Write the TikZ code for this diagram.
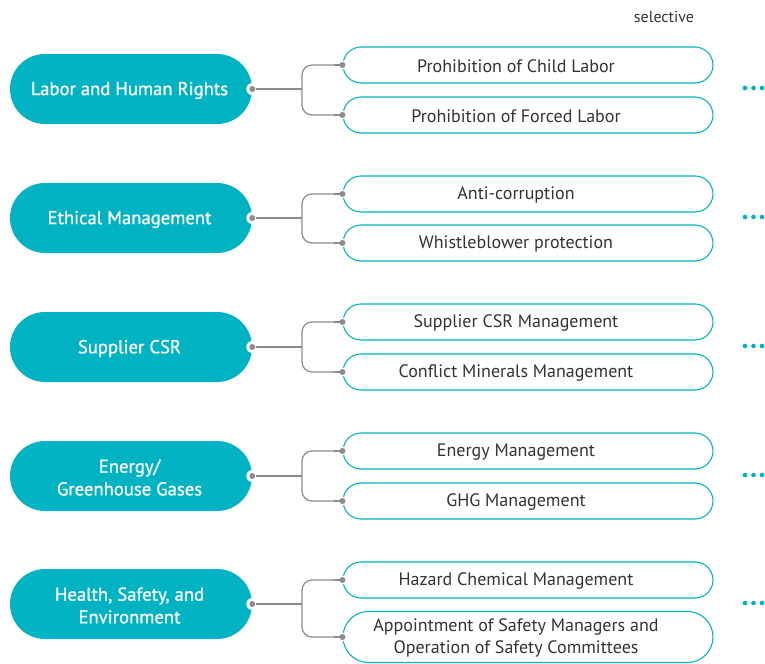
\documentclass[tikz,border=0pt]{standalone}
\usepackage{fontspec}
\setmainfont{PT Sans}
\newfontfamily\medfont[FakeBold=0.9]{PT Sans}
\usetikzlibrary{shapes.misc,calc}
\definecolor{tealc}{HTML}{00B3C3}
\definecolor{connc}{HTML}{8C8C8C}
\definecolor{txtc}{HTML}{333333}
\tikzset{
  mainbox/.style={rounded rectangle, fill=tealc, minimum width=181.5pt, minimum height=52.5pt, inner sep=0pt},
  maintxt/.style={text=white, font=\medfont\fontsize{14}{17}\selectfont, align=center, inner sep=0pt},
  subbox/.style={rounded rectangle, draw=tealc, line width=0.8pt, fill=white,
    minimum width=277.5pt, minimum height=27pt, inner sep=0pt},
  subtxt/.style={text=txtc, font=\fontsize{13.5}{16}\selectfont, align=center, inner sep=0pt},
  conn/.style={draw=connc, line width=0.9pt},
  gdot/.style={circle, fill=connc, inner sep=0pt, minimum size=4.5pt},
  notch/.style={circle, fill=white, inner sep=0pt, minimum size=#1},
  edot/.style={circle, fill=tealc, inner sep=0pt, minimum size=3.5pt}
}
\begin{document}
\begin{tikzpicture}[x=0.75pt,y=-0.75pt]
\useasboundingbox (0,0) rectangle (765,664);
\node[text=txtc, font=\fontsize{12}{14}\selectfont] (sel) at (664,17) {selective};
\foreach \i/\my/\ay/\by/\ml/\al/\bl/\bh in {
  1/89/65/115/{Labor and Human Rights}/{Prohibition of Child Labor}/{Prohibition of Forced Labor}/27pt,
  2/218/194/243/{Ethical Management}/{Anti-corruption}/{Whistleblower protection}/27pt,
  3/347/322/372/{Supplier CSR}/{Supplier CSR Management}/{Conflict Minerals Management}/27pt,
  4/476/451/501/{Energy/\\Greenhouse Gases}/{Energy Management}/{GHG Management}/27pt,
  5/604/580/637/{Health, Safety, and\\Environment}/{Hazard Chemical Management}/{Appointment of Safety Managers and\\Operation of Safety Committees}/38.25pt}
{
  \node[mainbox] (m\i) at (131,\my) {};
  \node[maintxt] (mt\i) at (129.5,\my+1.5) {\ml};
  \node[subbox] (a\i) at (528,\ay) {};
  \node[subbox, minimum height=\bh] (b\i) at (528,\by) {};
  \node[subtxt] (at\i) at (516,\ay+1) {\al};
  \node[subtxt] (bt\i) at (516,\by+1) {\bl};
  \coordinate (j\i) at (302,\my);
  \draw[conn, rounded corners=7.5pt] (a\i.west) -| (j\i) |- (b\i.west);
  \node[notch=9pt] (mn\i) at (m\i.east) {};
  \node[notch=7pt] (an\i) at (a\i.west) {};
  \node[notch=7pt] (bn\i) at (b\i.west) {};
  \node[gdot] (md\i) at (m\i.east) {};
  \node[gdot] (ad\i) at (a\i.west) {};
  \node[gdot] (bd\i) at (b\i.west) {};
  \draw[conn] (md\i) -- (j\i);
  \draw[conn] (ad\i.center) -- ++(-8,0);
  \draw[conn] (bd\i.center) -- ++(-8,0);
  \node[edot] (e1\i) at (745,\my-1) {};
  \node[edot] (e2\i) at (753.5,\my-1) {};
  \node[edot] (e3\i) at (762,\my-1) {};
}
\end{tikzpicture}
\end{document}
